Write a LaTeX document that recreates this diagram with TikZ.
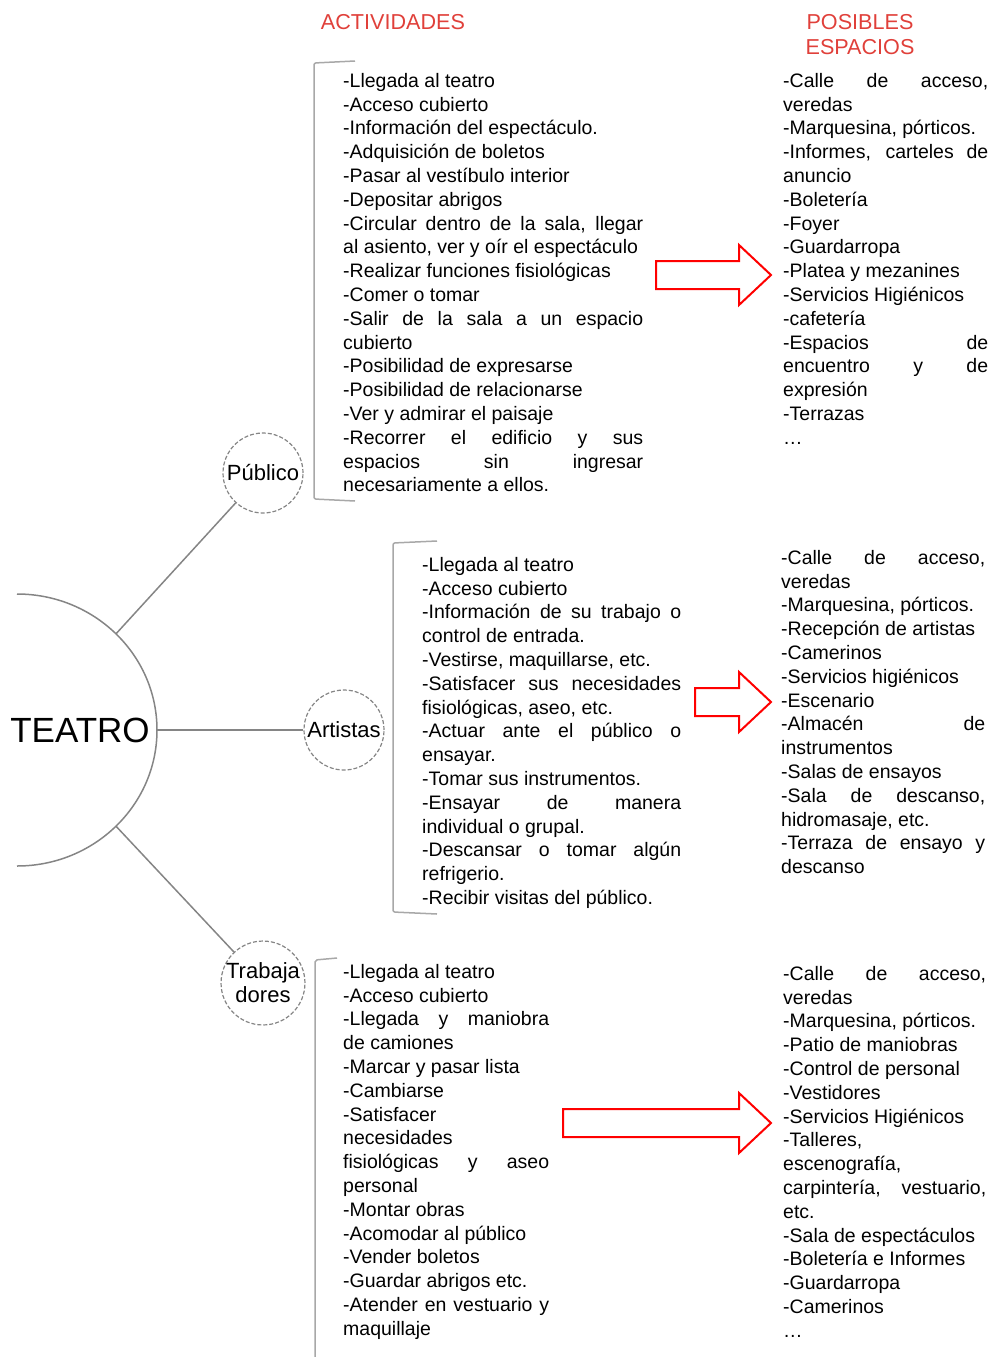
\documentclass[tikz,border=0pt]{standalone}
\usepackage{fontspec}
\setmainfont{Liberation Sans}
\usetikzlibrary{positioning}
\definecolor{rojo}{HTML}{E0403A}
\definecolor{gris}{HTML}{858585}
\definecolor{grisclaro}{HTML}{A8A8A8}
\newcommand{\flecha}[2]{\draw[flechaRoja] (#1,#2-14) -- (739,#2-14) -- (739,#2-30) -- (771,#2) -- (739,#2+30) -- (739,#2+14) -- (#1,#2+14) -- cycle;}
\tolerance=10000 \hbadness=10000 \hyphenpenalty=10000

\begin{document}
\begin{tikzpicture}[x=1pt, y=-1pt,
  lista/.style={anchor=north west, inner sep=0, align=justify, font=\fontsize{19.5}{23.8}\selectfont},
  titulo/.style={text=rojo, align=center, inner sep=0, font=\fontsize{21.6}{25}\selectfont},
  grupo/.style={circle, draw=gris, dashed, dash pattern=on 4pt off 2pt, line width=1.2pt, minimum size=80, inner sep=0, align=center, font=\fontsize{22}{24}\selectfont},
  rama/.style={draw=gris, line width=1.5pt},
  llave/.style={draw=grisclaro, line width=1.5pt, rounded corners=2pt},
  flechaRoja/.style={draw=red, line width=2pt}]
\useasboundingbox (0,0) rectangle (993,1357);
\node[titulo] (actividades) at (393,22) {ACTIVIDADES};
\node[titulo] (espacios) at (860,35) {POSIBLES\\ESPACIOS};
\node[font=\fontsize{35}{40}\selectfont, inner sep=0] (teatro) at (80,730) {TEATRO};
\draw[rama] (17,594) arc[start angle=-90, end angle=90, x radius=140, y radius=136];
\path (17,730) ++(-45:140 and 136) coordinate (arcoSup);
\path (17,730) ++(45:140 and 136) coordinate (arcoInf);
\coordinate (arcoMed) at (157,730);
\node[grupo] (publico) at (263,473) {Público};
\node[grupo] (artistas) at (344,730) {Artistas};
\node[grupo, minimum size=82] (trabajadores) at (263,983) {Trabaja\\dores};
\draw[rama] (arcoSup) -- (publico);
\draw[rama] (arcoMed) -- (artistas);
\draw[rama] (arcoInf) -- (trabajadores);
\draw[llave] (355,61) -- (314,63) -- (314,499) -- (355,501);
\draw[llave] (437,541) -- (393,543) -- (393,912) -- (437,914);
\draw[llave] (337,958) -- (315,960) -- (315,1357);
\node[lista, text width=300] (actPublico) at (343,73) {-Llegada al teatro\\
-Acceso cubierto\\
-Información del espectáculo.\\
-Adquisición de boletos\\
-Pasar al vestíbulo interior\\
-Depositar abrigos\\
-Circular dentro de la sala, llegar\linebreak al asiento, ver y oír el espectáculo\\
-Realizar funciones fisiológicas\\
-Comer o tomar\\
-Salir de la sala a un espacio\linebreak cubierto\\
-Posibilidad de expresarse\\
-Posibilidad de relacionarse\\
-Ver y admirar el paisaje\\
-Recorrer el edificio y sus\linebreak espacios sin ingresar\linebreak necesariamente a ellos.};
\node[lista, text width=259] (actArtistas) at (422,557) {-Llegada al teatro\\
-Acceso cubierto\\
-Información de su trabajo o\linebreak control de entrada.\\
-Vestirse, maquillarse, etc.\\
-Satisfacer sus necesidades\linebreak fisiológicas, aseo, etc.\\
-Actuar ante el público o\linebreak ensayar.\\
-Tomar sus instrumentos.\\
-Ensayar de manera\linebreak individual o grupal.\\
-Descansar o tomar algún\linebreak refrigerio.\\
-Recibir visitas del público.};
\node[lista, text width=206] (actTrabajadores) at (343,964) {-Llegada al teatro\\
-Acceso cubierto\\
-Llegada y maniobra\linebreak de camiones\\
-Marcar y pasar lista\\
-Cambiarse\\
-Satisfacer\\
necesidades\\
fisiológicas y aseo\linebreak personal\\
-Montar obras\\
-Acomodar al público\\
-Vender boletos\\
-Guardar abrigos etc.\\
-Atender en vestuario y\linebreak maquillaje};
\node[lista, text width=205] (espPublico) at (783,73) {-Calle de acceso,\linebreak veredas\\
-Marquesina, pórticos.\\
-Informes, carteles de\linebreak anuncio\\
-Boletería\\
-Foyer\\
-Guardarropa\\
-Platea y mezanines\\
-Servicios Higiénicos\\
-cafetería\\
-Espacios de\linebreak encuentro y de\linebreak expresión\\
-Terrazas\\
…};
\node[lista, text width=204] (espArtistas) at (781,550) {-Calle de acceso,\linebreak veredas\\
-Marquesina, pórticos.\\
-Recepción de artistas\\
-Camerinos\\
-Servicios higiénicos\\
-Escenario\\
-Almacén de\linebreak instrumentos\\
-Salas de ensayos\\
-Sala de descanso,\linebreak hidromasaje, etc.\\
-Terraza de ensayo y\linebreak descanso};
\node[lista, text width=203] (espTrabajadores) at (783,966) {-Calle de acceso,\linebreak veredas\\
-Marquesina, pórticos.\\
-Patio de maniobras\\
-Control de personal\\
-Vestidores\\
-Servicios Higiénicos\\
-Talleres,\\
escenografía,\\
carpintería, vestuario,\linebreak etc.\\
-Sala de espectáculos\\
-Boletería e Informes\\
-Guardarropa\\
-Camerinos\\
…};
\flecha{656}{275}
\flecha{695}{702}
\flecha{563}{1123}
\end{tikzpicture}
\end{document}
